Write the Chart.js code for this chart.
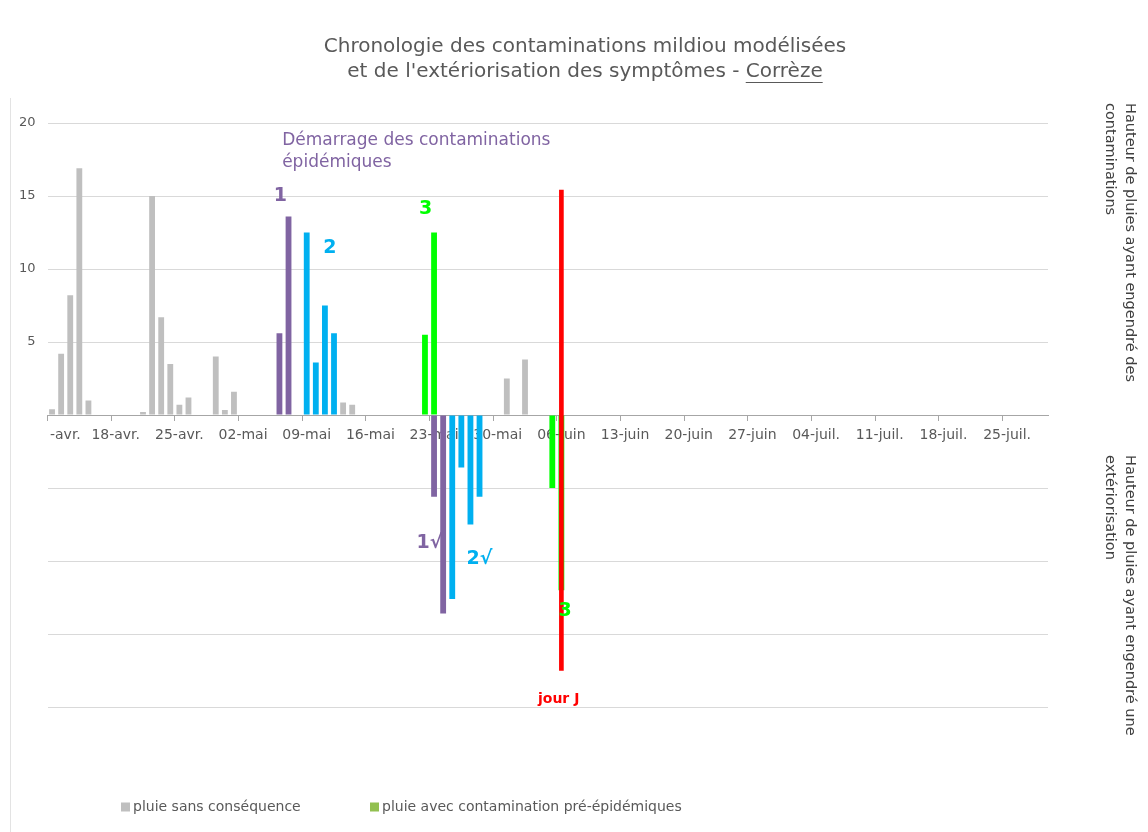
<!DOCTYPE html>
<html lang="fr">
<head>
<meta charset="utf-8">
<title>Chronologie des contaminations mildiou - Corrèze</title>
<script src="https://cdn.jsdelivr.net/npm/chart.js@4.4.1/dist/chart.umd.min.js"></script>
<style>
  html, body { margin: 0; padding: 0; background: #ffffff; }
  #wrap { width: 1148px; height: 832px; }
</style>
</head>
<body>
<div id="wrap"><canvas id="mildiouChart" width="1148" height="832"></canvas></div>
<script>
// mois affichés sur l'axe (nom, premier jour, dernier jour)
const months = [['avr.', 11, 30], ['mai', 1, 31], ['juin', 1, 30], ['juil.', 1, 29]];
// étiquettes visibles, une par semaine
const tickLabels = ['      -avr.', '18-avr.', '25-avr.', '02-mai', '09-mai', '16-mai', '23-mai', '30-mai',
  '06-juin', '13-juin', '20-juin', '27-juin', '04-juil.', '11-juil.', '18-juil.', '25-juil.'];

// pluie sans conséquence
const dryDays = ['11-avr.', '12-avr.', '13-avr.', '14-avr.', '15-avr.', '21-avr.', '22-avr.', '23-avr.',
  '24-avr.', '25-avr.', '26-avr.', '29-avr.', '30-avr.', '01-mai', '13-mai', '14-mai', '31-mai', '02-juin'];
const dryRain = [0.4, 4.2, 8.2, 16.9, 1.0, 0.2, 15.0, 6.7, 3.5, 0.7, 1.2, 4.0, 0.35, 1.6, 0.85, 0.7, 2.5, 3.8];

// pluie avec contamination pré-épidémique (3) et son extériorisation
const preDays = ['22-mai', '23-mai', '05-juin', '06-juin'];
const preRain = [5.5, 12.5, -5.0, -12.0];

// contamination 1 et extériorisation 1√
const firstDays = ['06-mai', '07-mai', '23-mai', '24-mai'];
const firstRain = [5.6, 13.6, -5.6, -13.6];

// contamination 2 et extériorisation 2√
const secondDays = ['09-mai', '10-mai', '11-mai', '12-mai', '25-mai', '26-mai', '27-mai', '28-mai'];
const secondRain = [12.5, 3.6, 7.5, 5.6, -12.6, -3.6, -7.5, -5.6];

// jour J
const dayJ = '06-juin';
const dayJRange = [-17.5, 15.4];

const GREY = '#bfbfbf', GREEN = '#00ff00', PURPLE = '#8064a2', BLUE = '#00b0f0', RED = '#ff0000';
const FONT = '"DejaVu Sans", Verdana, sans-serif';

// liste des jours de la période
const days = [];
months.forEach(([name, first, last]) => {
  for (let d = first; d <= last; d++) days.push(String(d).padStart(2, '0') + '-' + name);
});

function points(dates, values) {
  return dates.map((d, i) => ({ x: d, y: values[i] }));
}

// textes posés sur le graphique (jour en index, valeur en mm)
const notes = [
  { text: 'Démarrage des contaminations', day: 25.3, value: 18.8, color: PURPLE, font: '17px ' + FONT, align: 'left' },
  { text: 'épidémiques', day: 25.3, value: 17.3, color: PURPLE, font: '17px ' + FONT, align: 'left' },
  { text: '1', day: 25.1, value: 15.0, color: PURPLE, font: 'bold 19px ' + FONT },
  { text: '2', day: 30.55, value: 11.4, color: BLUE, font: 'bold 19px ' + FONT },
  { text: '3', day: 41.07, value: 14.1, color: GREEN, font: 'bold 19px ' + FONT },
  { text: '1√', day: 41.5, value: -8.8, color: PURPLE, font: 'bold 19px ' + FONT },
  { text: '2√', day: 47.0, value: -9.9, color: BLUE, font: 'bold 19px ' + FONT },
  { text: '3', day: 56.4, value: -13.4, color: GREEN, font: 'bold 19px ' + FONT },
  { text: 'jour J', day: 55.7, value: -19.5, color: RED, font: 'bold 14px ' + FONT }
];

const legendItems = [
  { text: 'pluie sans conséquence', color: GREY },
  { text: 'pluie avec contamination pré-épidémiques', color: '#92c050' }
];

// titre, légende, titres d'axe à droite et annotations
const decorPlugin = {
  id: 'decor',
  afterDraw(chart) {
    const ctx = chart.ctx;
    const xs = chart.scales.x, ys = chart.scales.y;
    ctx.save();

    // bord gauche du cadre
    ctx.strokeStyle = '#e3e3e3';
    ctx.lineWidth = 1;
    ctx.beginPath();
    ctx.moveTo(10.5, 98);
    ctx.lineTo(10.5, 832);
    ctx.stroke();

    // titre
    ctx.fillStyle = '#595959';
    ctx.font = '20px ' + FONT;
    ctx.textAlign = 'center';
    ctx.textBaseline = 'middle';
    const cx = 585;
    const line1 = 'Chronologie des contaminations mildiou modélisées';
    const line2a = "et de l'extériorisation des symptômes - ";
    const line2b = 'Corrèze';
    ctx.fillText(line1, cx, 47);
    ctx.fillText(line2a + line2b, cx, 72);
    const w2 = ctx.measureText(line2a + line2b).width;
    const wb = ctx.measureText(line2b).width;
    const ux = cx + w2 / 2 - wb;
    ctx.strokeStyle = '#595959';
    ctx.beginPath();
    ctx.moveTo(ux, 82.5);
    ctx.lineTo(ux + wb, 82.5);
    ctx.stroke();

    // titres verticaux à droite
    ctx.fillStyle = '#404040';
    ctx.font = '14.5px ' + FONT;
    ctx.textAlign = 'left';
    const sideTitles = [
      { lines: ['Hauteur de pluies ayant engendré des', 'contaminations'], top: 103 },
      { lines: ['Hauteur de pluies ayant engendré une', 'extériorisation'], top: 455 }
    ];
    sideTitles.forEach(t => {
      t.lines.forEach((s, i) => {
        ctx.save();
        ctx.translate(1130 - i * 20, t.top);
        ctx.rotate(Math.PI / 2);
        ctx.fillText(s, 0, 0);
        ctx.restore();
      });
    });

    // annotations
    notes.forEach(n => {
      ctx.fillStyle = n.color;
      ctx.font = n.font;
      ctx.textAlign = n.align || 'center';
      ctx.fillText(n.text, xs.getPixelForValue(n.day), ys.getPixelForValue(n.value));
    });

    // légende
    ctx.font = '14px ' + FONT;
    ctx.textAlign = 'left';
    const legendX = [121, 370], legendY = 807;
    legendItems.forEach((it, i) => {
      ctx.fillStyle = it.color;
      ctx.fillRect(legendX[i], legendY - 4.5, 9, 9);
      ctx.fillStyle = '#595959';
      ctx.fillText(it.text, legendX[i] + 12, legendY);
    });
    ctx.restore();
  }
};

const ctx = document.getElementById('mildiouChart').getContext('2d');
const chart = new Chart(ctx, {
  type: 'bar',
  data: {
    labels: days,
    datasets: [
      { label: 'jour J', data: [{ x: dayJ, y: dayJRange }], backgroundColor: RED, barThickness: 4 },
      { label: 'pluie sans conséquence', data: points(dryDays, dryRain), backgroundColor: GREY },
      { label: 'pluie avec contamination pré-épidémiques', data: points(preDays, preRain), backgroundColor: GREEN },
      { label: 'contamination 1', data: points(firstDays, firstRain), backgroundColor: PURPLE },
      { label: 'contamination 2', data: points(secondDays, secondRain), backgroundColor: BLUE }
    ]
  },
  options: {
    responsive: false,
    animation: false,
    events: [],
    layout: { padding: { left: 0, right: 100, top: 123, bottom: 125 } },
    datasets: {
      bar: { grouped: false, categoryPercentage: 1, barPercentage: 0.64, borderWidth: 0 }
    },
    plugins: {
      legend: { display: false },
      title: { display: false },
      tooltip: { enabled: false }
    },
    scales: {
      x: {
        position: { y: 0 },
        offset: true,
        afterFit: s => { s.height = 0; },
        grid: {
          offset: true,
          drawOnChartArea: false,
          drawTicks: true,
          tickLength: 5,
          tickColor: c => (c.index % 7 === 0 ? '#a6a6a6' : 'rgba(0,0,0,0)')
        },
        border: { display: true, color: '#a6a6a6', width: 1 },
        ticks: {
          autoSkip: false,
          maxRotation: 0,
          minRotation: 0,
          padding: 7,
          color: '#595959',
          font: { family: FONT, size: 14 },
          callback: (v, i) => (i % 7 === 0 ? tickLabels[i / 7] : '')
        }
      },
      y: {
        min: -20,
        max: 20,
        afterFit: s => { s.width = 47.5; },
        grid: { color: '#d9d9d9', drawTicks: false },
        border: { display: false },
        ticks: {
          stepSize: 5,
          padding: 12,
          color: '#595959',
          font: { family: FONT, size: 13 },
          callback: v => (v > 0 ? v : '')
        }
      }
    }
  },
  plugins: [decorPlugin]
});
</script>
</body>
</html>
